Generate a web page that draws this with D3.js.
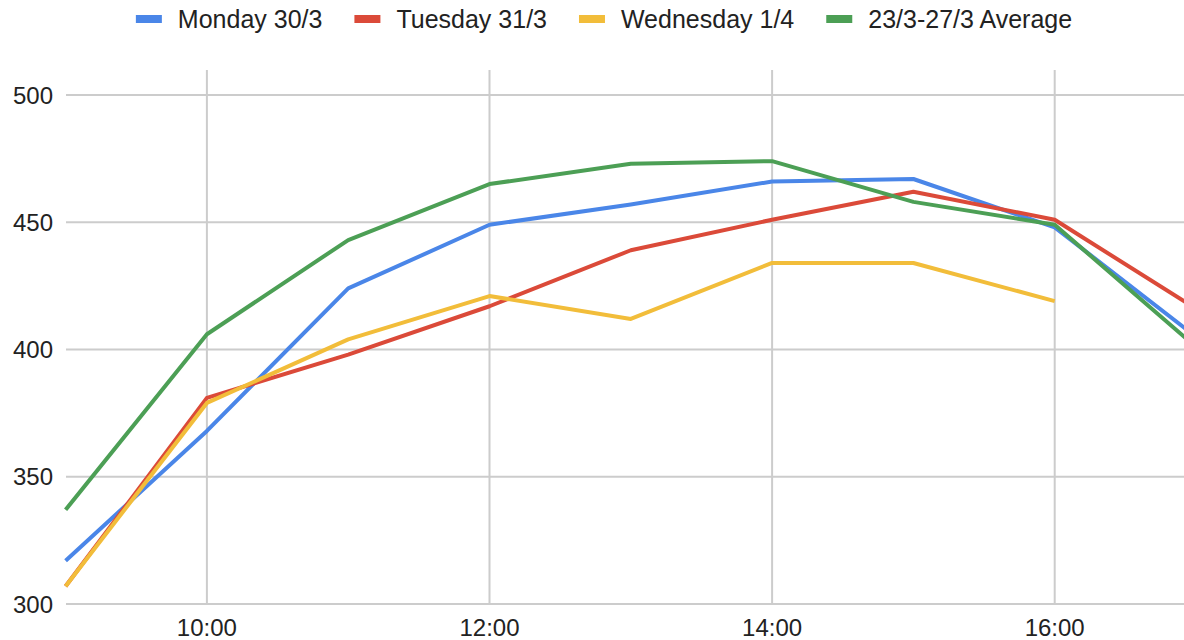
<!DOCTYPE html>
<html>
<head>
<meta charset="utf-8">
<script src="https://cdn.jsdelivr.net/npm/d3@7"></script>
<style>
  body { margin: 0; background: #fff; }
  svg { display: block; font-family: "Liberation Sans", Arial, sans-serif; }
</style>
</head>
<body>
<svg width="1184" height="640"></svg>
<script>
// hours of the day (9:00 .. 17:00)
const hours = [9, 10, 11, 12, 13, 14, 15, 16, 17];
const seriesNames = ["Monday 30/3", "Tuesday 31/3", "Wednesday 1/4", "23/3-27/3 Average"];
const monday = [317, 368, 424, 449, 457, 466, 467, 448, 405];
const tuesday = [307, 381, 398, 417, 439, 451, 462, 451, 416];
const wednesday = [307, 379, 404, 421, 412, 434, 434, 419, null];
const average = [337, 406, 443, 465, 473, 474, 458, 449, 401];
const yTicks = [300, 350, 400, 450, 500];
const xTicks = [10, 12, 14, 16];
const colors = ["#4a86e8", "#db4a39", "#f2bd3a", "#4c9f55"];

const svg = d3.select("svg");

const x = d3.scaleLinear().domain([9, 17]).range([65.6, 1196]);
const y = d3.scaleLinear().domain([300, 500]).range([604, 95]);

// gridlines
svg.append("g")
    .selectAll("line")
    .data(yTicks)
    .join("line")
    .attr("x1", 66).attr("x2", 1184)
    .attr("y1", d => y(d)).attr("y2", d => y(d))
    .attr("stroke", "#cccccc")
    .attr("stroke-width", 2);

svg.append("g")
    .selectAll("line")
    .data(xTicks)
    .join("line")
    .attr("x1", d => x(d)).attr("x2", d => x(d))
    .attr("y1", 70).attr("y2", 604)
    .attr("stroke", "#cccccc")
    .attr("stroke-width", 2);

// axis labels
svg.append("g")
    .selectAll("text")
    .data(yTicks)
    .join("text")
    .attr("x", 53)
    .attr("y", d => y(d))
    .attr("dy", "0.36em")
    .attr("text-anchor", "end")
    .attr("font-size", 24)
    .attr("fill", "#222")
    .text(d => d);

svg.append("g")
    .selectAll("text")
    .data(xTicks)
    .join("text")
    .attr("x", d => x(d))
    .attr("y", 627)
    .attr("dy", "0.36em")
    .attr("text-anchor", "middle")
    .attr("font-size", 24)
    .attr("fill", "#222")
    .text(d => d + ":00");

// lines
const series = [monday, tuesday, wednesday, average];
const line = d3.line()
    .defined(d => d != null)
    .x((d, i) => x(hours[i]))
    .y(d => y(d));

svg.append("g")
    .selectAll("path")
    .data(series)
    .join("path")
    .attr("d", line)
    .attr("fill", "none")
    .attr("stroke", (d, i) => colors[i])
    .attr("stroke-width", 4)
    .attr("stroke-linejoin", "round");

// legend
const legend = svg.append("g");
let cx = 0;
seriesNames.forEach((name, i) => {
    const g = legend.append("g").attr("transform", `translate(${cx},0)`);
    g.append("rect")
        .attr("x", 0).attr("y", 15)
        .attr("width", 26).attr("height", 8)
        .attr("fill", colors[i]);
    const t = g.append("text")
        .attr("x", 42).attr("y", 19)
        .attr("dy", "0.36em")
        .attr("font-size", 25)
        .attr("fill", "#222")
        .text(name);
    cx += 42 + t.node().getComputedTextLength() + 32;
});
const totalW = cx - 32;
legend.attr("transform", `translate(${604 - totalW / 2},0)`);
</script>
</body>
</html>
